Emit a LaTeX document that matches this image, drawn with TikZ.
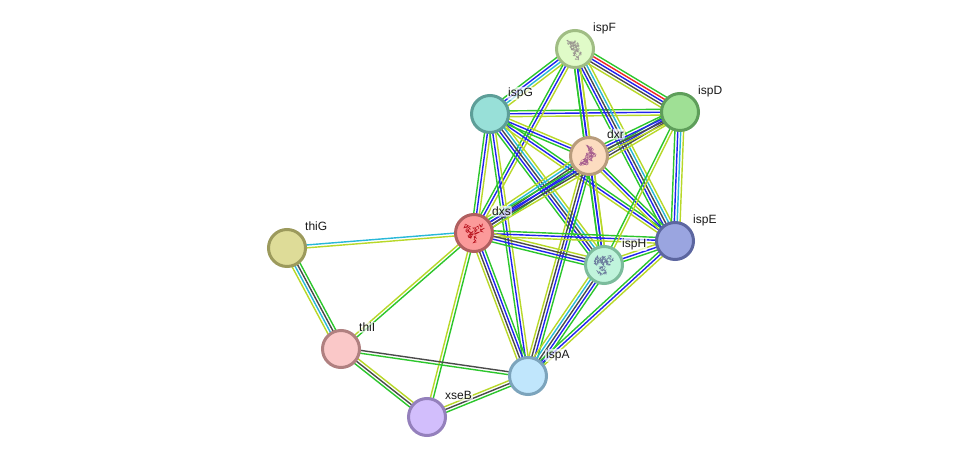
\documentclass[tikz,border=0pt]{standalone}
\usepackage{fontspec}
\setmainfont{Liberation Sans}
\usetikzlibrary{calc,backgrounds}
\definecolor{linkgreen}{HTML}{2CC62C}
\definecolor{linkred}{HTML}{F02828}
\definecolor{linkblue}{HTML}{2222F0}
\definecolor{linkdark}{HTML}{4A4A4A}
\definecolor{linkcyan}{HTML}{28B8D8}
\definecolor{linkyellow}{HTML}{B8D828}
\definecolor{foldF}{HTML}{9A9590}
\definecolor{foldR}{HTML}{A8608F}
\definecolor{foldS}{HTML}{B8141E}
\definecolor{foldH}{HTML}{6A7A9C}
\definecolor{ispFfill}{HTML}{E0FBC8}\definecolor{ispFline}{HTML}{A0BD84}
\definecolor{ispDfill}{HTML}{9FE095}\definecolor{ispDline}{HTML}{5E9E5A}
\definecolor{ispGfill}{HTML}{98E0D8}\definecolor{ispGline}{HTML}{5D9E98}
\definecolor{dxrfill}{HTML}{FCDCC0}\definecolor{dxrline}{HTML}{B89C7C}
\definecolor{dxsfill}{HTML}{FB9A9A}\definecolor{dxsline}{HTML}{B05F5F}
\definecolor{ispHfill}{HTML}{C0F4DC}\definecolor{ispHline}{HTML}{7CBC9C}
\definecolor{ispEfill}{HTML}{9AA5E0}\definecolor{ispEline}{HTML}{5C66A0}
\definecolor{thiGfill}{HTML}{DEDC98}\definecolor{thiGline}{HTML}{9C9A5C}
\definecolor{thiIfill}{HTML}{FAC8C8}\definecolor{thiIline}{HTML}{B08080}
\definecolor{ispAfill}{HTML}{C0E6FC}\definecolor{ispAline}{HTML}{7CA4BC}
\definecolor{xseBfill}{HTML}{D2BEFC}\definecolor{xseBline}{HTML}{9480BC}
\tikzset{
  linkg/.style={draw=linkgreen},
  linkr/.style={draw=linkred},
  linkb/.style={draw=linkblue},
  linkk/.style={draw=linkdark},
  linkc/.style={draw=linkcyan},
  linky/.style={draw=linkyellow},
  protein/.style={circle,inner sep=0pt,minimum size=37pt,line width=3pt,
    draw=#1line,fill=#1fill},
  plabel/.style={anchor=base west,inner sep=1pt,font=\fontsize{12}{14}\selectfont,
    fill=white,fill opacity=.7,text opacity=1,text=black!90,rounded corners=2pt},
}
% parallel evidence lines between two proteins, listed from the left of travel
\newcommand\bundle[3]{%
  \foreach \c [count=\n] in {#3}{\xdef\bundlesize{\n}}%
  \foreach \c [count=\i] in {#3}{%
    \pgfmathsetmacro\off{((\bundlesize+1)/2-\i)*2.9}%
    \draw[link\c,line width=1.4pt] ($(#1)!\off pt!90:(#2)$) -- ($(#2)!\off pt!-90:(#1)$);
  }%
}
% tangled backbone of a protein structure: short random strokes round given points
\newcommand\fold[3]{%
  \foreach \px/\py in {#3}{%
    \draw[#2,line width=.4pt,shift={(#1)},line join=round] plot[samples at={1,...,9}]
      ({\px+2.6*rand},{\py+2.6*rand});
  }%
}
\newcommand\named[2]{\node[plabel] (#1-name) at ($(#1)+(17,17.5)$) {#2};}
\begin{document}
\begin{tikzpicture}[x=1pt,y=1pt]
\useasboundingbox (0,0) rectangle (976,462);
\pgfmathsetseed{4217}

% proteins
\node[protein=ispF] (ispF) at (575,413) {};
\node[protein=ispD] (ispD) at (680,350) {};
\node[protein=ispG] (ispG) at (490,348) {};
\node[protein=dxr]  (dxr)  at (589,306) {};
\node[protein=dxs]  (dxs)  at (474,229) {};
\node[protein=ispH] (ispH) at (604,197) {};
\node[protein=ispE] (ispE) at (675,221) {};
\node[protein=thiG] (thiG) at (287,214) {};
\node[protein=thiI] (thiI) at (341,113) {};
\node[protein=ispA] (ispA) at (528,86)  {};
\node[protein=xseB] (xseB) at (427,45)  {};

% evidence bundles
\begin{scope}[on background layer]
  \fill[white] (0,0) rectangle (976,462);
  \bundle{ispF}{ispD}{g,r,b,k,y}
  \bundle{ispF}{ispG}{y,c,b,g}
  \bundle{ispG}{ispD}{g,b,y}
  \bundle{dxr}{ispF}{g,b,y}
  \bundle{dxs}{ispF}{g,b,y}
  \bundle{ispE}{ispF}{g,b,k,c,y}
  \bundle{ispH}{ispF}{g,b,y}
  \bundle{dxr}{ispG}{g,b,y}
  \bundle{ispG}{ispE}{g,b,y}
  \bundle{ispH}{ispG}{g,b,k,c,y}
  \bundle{dxs}{ispG}{g,b,y}
  \bundle{ispA}{ispG}{g,b,y}
  \bundle{dxr}{dxs}{g,b,k,c,y}
  \bundle{dxs}{ispD}{g,b,k,y}
  \bundle{dxr}{ispD}{g,b,k,y}
  \bundle{dxr}{ispE}{g,b,y}
  \bundle{ispH}{dxr}{g,b,y}
  \bundle{dxr}{ispA}{g,b,k,y}
  \bundle{dxs}{ispE}{g,b,y}
  \bundle{ispH}{dxs}{g,b,k,y}
  \bundle{dxs}{ispA}{g,b,k,y}
  \bundle{dxs}{xseB}{g,y}
  \bundle{dxs}{thiI}{g,y}
  \bundle{thiG}{dxs}{c,y}
  \bundle{thiG}{thiI}{g,k,c,y}
  \bundle{ispA}{thiI}{g,k}
  \bundle{xseB}{thiI}{g,k,y}
  \bundle{ispA}{xseB}{g,k,y}
  \bundle{ispH}{ispA}{g,b,k,c,y}
  \bundle{ispA}{ispE}{g,b,y}
  \bundle{ispE}{ispH}{g,b,y}
  \bundle{ispH}{ispD}{g,y}
  \bundle{ispE}{ispD}{g,b,c,y}
\end{scope}

% structures drawn inside four of the proteins
\fold{ispF}{foldF}{-6/7,-4/6,-2/4,-1/7,2/4,0/2,-3/1,0/0,3/-1,1/-3,4/-4,0/-6,2/-9}
\fold{dxr}{foldR}{-1/9,1/7,3/6,1/4,3/2,5/1,2/0,-1/1,-2/-2,1/-3,-4/-4,-6/-6,-8/-8,-3/-7,-1/-5}
\fold{dxs}{foldS}{-8/7,-5/5,-6.5/2,-3/0,0/3,3/5,6/7,8/3,3/0,-2/-3,1.5/-5,0/-8,-5/-3}
\fold{ispH}{foldH}{-8/6,-5/7,-3/5,0/7,3/6,6/7,8/5,2/4,-4/3,-8/2,-2/1,4/2,-3/-2,-1/-4,-5/-7,-2/-9,1/-7}

% names
\named{ispF}{ispF}
\named{ispD}{ispD}
\named{ispG}{ispG}
\named{dxr}{dxr}
\named{dxs}{dxs}
\named{ispH}{ispH}
\named{ispE}{ispE}
\named{thiG}{thiG}
\named{thiI}{thiI}
\named{ispA}{ispA}
\named{xseB}{xseB}
\end{tikzpicture}
\end{document}
